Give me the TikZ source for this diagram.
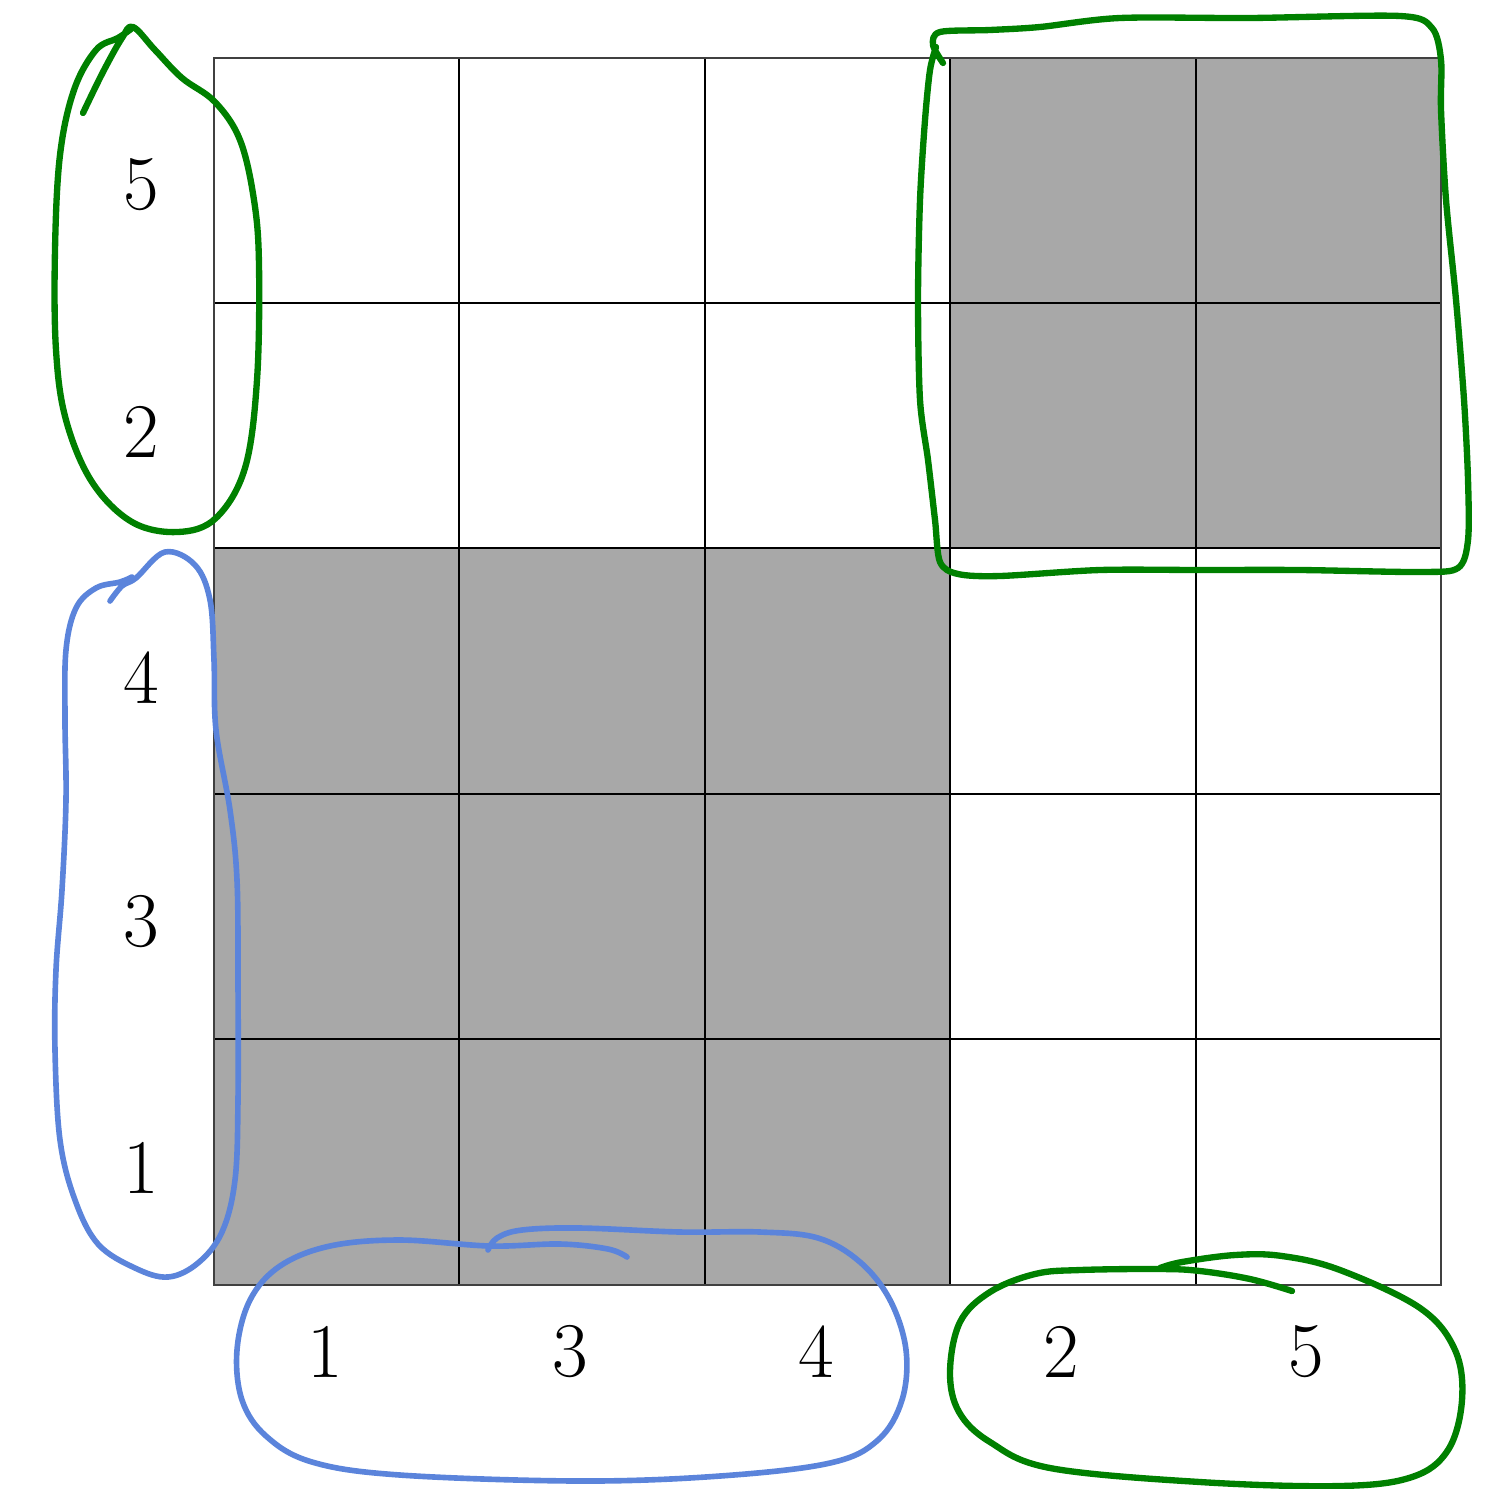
\documentclass[tikz,border=0pt]{standalone}
\definecolor{cellgray}{HTML}{A8A8A8}
\definecolor{pengreen}{HTML}{008000}
\definecolor{penblue}{HTML}{5B84DB}
\begin{document}
\begin{tikzpicture}[x=0.01cm,y=-0.01cm,
  lab/.style={font=\fontsize{22}{26}\selectfont, inner sep=0pt},
  gstroke/.style={draw=pengreen, line width=1.8pt, line cap=round, line join=round},
  bstroke/.style={draw=penblue, line width=1.6pt, line cap=round, line join=round},
  gridline/.style={line width=0.6pt, draw=black}]
\useasboundingbox (0,0) rectangle (1489,1488);
% shaded blocks
\fill[cellgray] (214,548) rectangle (950,1285);
\fill[cellgray] (950,58) rectangle (1441,548);
% grid
\foreach \x in {459,705,950,1196} \draw[gridline] (\x,58) -- (\x,1285);
\foreach \y in {303,548,794,1039} \draw[gridline] (214,\y) -- (1441,\y);
\draw[gridline, draw=black!75] (214,58) rectangle (1441,1285);
% row labels
\node[lab] (r5) at (141,185) {5};
\node[lab] (r2) at (141,432) {2};
\node[lab] (r4) at (141,678) {4};
\node[lab] (r3) at (141,922) {3};
\node[lab] (r1) at (141,1168) {1};
% column labels
\node[lab] (c1) at (325,1352) {1};
\node[lab] (c3) at (570,1352) {3};
\node[lab] (c4) at (816,1352) {4};
\node[lab] (c2) at (1061,1352) {2};
\node[lab] (c5) at (1306,1352) {5};
% green loop round rows 5,2
\draw[gstroke] plot[smooth, tension=0.6] coordinates {(83,113) (103,72) (122,38) (133,27) (155,50) (182,78) (215,102) (240,140) (254,200) (259,265) (257,380) (245,468) (216,518) (178,532) (132,522) (92,482) (66,420) (56,350) (55,250) (60,155) (74,90) (96,50) (118,38) (131,29)};
% blue loop round rows 4,3,1
\draw[bstroke] plot[smooth, tension=0.6] coordinates {(110,601) (122,586) (136,578) (165,552) (195,565) (210,600) (214,660) (216,730) (230,810) (237,880) (238,980) (238,1100) (235,1180) (222,1232) (198,1263) (168,1277) (135,1268) (98,1244) (75,1200) (60,1140) (55,1050) (56,970) (62,890) (66,800) (65,720) (66,650) (76,608) (96,588) (120,582) (132,577)};
% blue loop round columns 1,3,4
\draw[bstroke] plot[smooth, tension=0.6] coordinates {(627,1257) (608,1249) (560,1244) (490,1246) (400,1240) (330,1246) (280,1266) (250,1300) (237,1350) (242,1400) (266,1436) (312,1462) (400,1475) (580,1481) (720,1476) (830,1463) (878,1440) (902,1400) (906,1350) (890,1300) (860,1262) (818,1238) (760,1232) (680,1232) (580,1228) (522,1230) (497,1238) (488,1250)};
% green loop round top-right block
\draw[gstroke] plot[smooth, tension=0.5] coordinates {(943,63) (933,45) (940,32) (990,30) (1040,27) (1120,18) (1250,18) (1400,16) (1432,28) (1441,60) (1441,110) (1446,200) (1456,300) (1464,400) (1468,480) (1468,540) (1458,568) (1420,572) (1300,570) (1200,570) (1100,570) (1000,576) (958,574) (940,562) (935,520) (928,460) (920,400) (918,300) (920,200) (925,120) (930,70) (936,47)};
% green loop round columns 2,5
\draw[gstroke] plot[smooth, tension=0.6] coordinates {(1292,1291) (1250,1279) (1200,1271) (1160,1269) (1080,1270) (1035,1274) (990,1292) (960,1322) (950,1372) (959,1412) (990,1442) (1050,1468) (1200,1482) (1340,1486) (1412,1477) (1448,1450) (1462,1400) (1455,1350) (1420,1308) (1340,1270) (1282,1256) (1235,1255) (1182,1262) (1160,1268)};
\end{tikzpicture}
\end{document}
